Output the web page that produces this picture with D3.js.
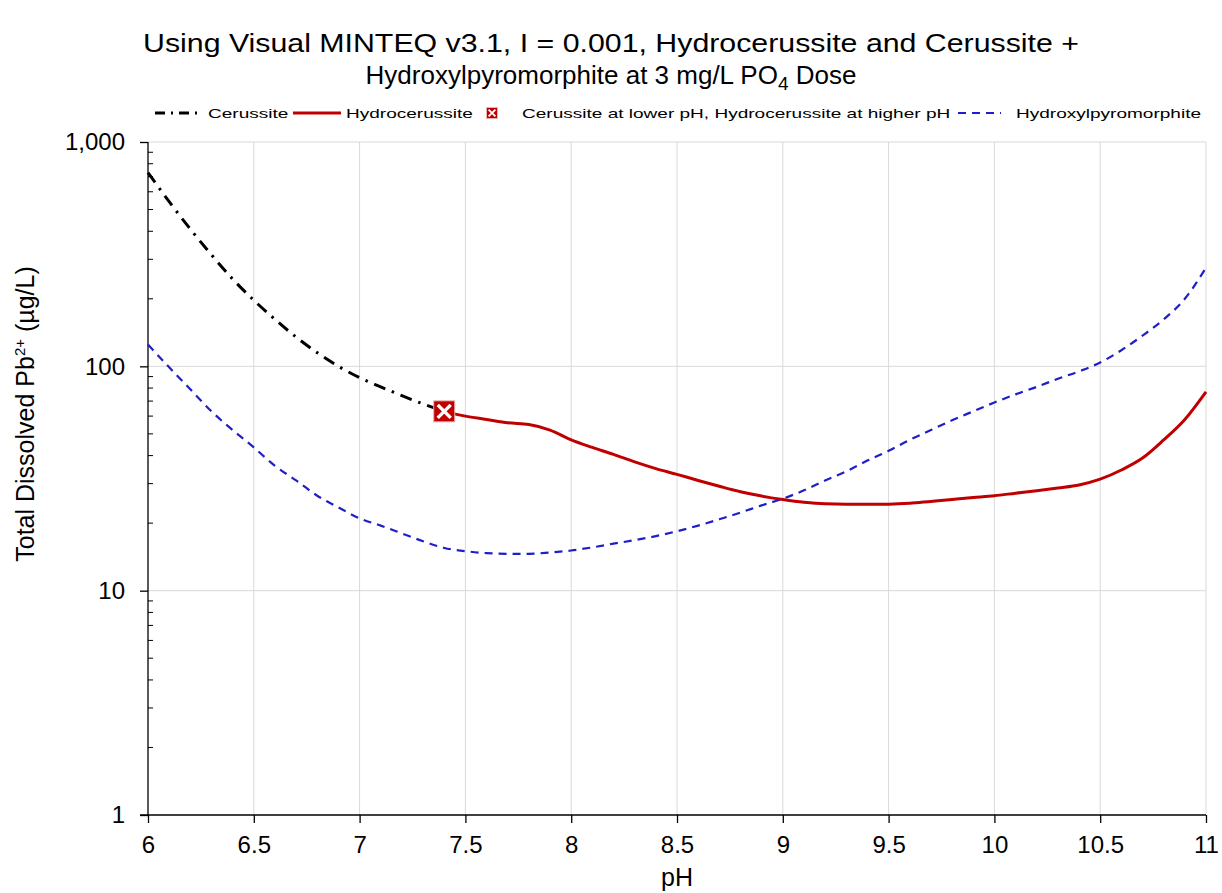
<!DOCTYPE html>
<html lang="en">
<head>
<meta charset="UTF-8" />
<script src="https://d3js.org/d3.v7.min.js"></script>
<title>MINTEQ lead solubility</title>
<style>
  body { margin: 0; background: #fff; overflow: hidden; }
  svg { display: block; }
  text { font-family: Arial, "Liberation Sans", sans-serif; fill: #000; }
  .tick text { font-size: 24px; }
</style>
</head>
<body>
<svg id="chart" width="1222" height="893"></svg>
<script>
// pH values and dissolved Pb (ug/L)
const phCerussite = [6.0, 6.1, 6.2, 6.3, 6.4, 6.5, 6.6, 6.7, 6.8, 6.9, 7.0, 7.1, 7.2, 7.3, 7.4];
const pbCerussite = [730, 542, 409, 314, 245, 197, 162, 135, 115, 100, 89, 81, 74, 68, 63];

const phHydro = [7.4, 7.5, 7.6, 7.7, 7.8, 7.9, 8.0, 8.1, 8.2, 8.3, 8.4, 8.5, 8.6, 8.7, 8.8, 8.9, 9.0,
  9.1, 9.2, 9.3, 9.4, 9.5, 9.6, 9.7, 9.8, 9.9, 10.0, 10.1, 10.2, 10.3, 10.4, 10.5, 10.6, 10.7, 10.8, 10.9, 11.0];
const pbHydro = [63, 60, 58, 56, 55, 52, 47, 43.5, 40.5, 37.5, 35, 33, 31, 29.2, 27.6, 26.4, 25.5,
  24.8, 24.4, 24.3, 24.3, 24.3, 24.5, 25, 25.5, 26, 26.5, 27.2, 27.9, 28.7, 29.6, 31.4, 34.5, 39, 47, 58, 77];

const phPyro = [6.0, 6.1, 6.2, 6.3, 6.4, 6.5, 6.6, 6.7, 6.8, 6.9, 7.0, 7.1, 7.2, 7.3, 7.4, 7.5, 7.6, 7.7, 7.8, 7.9,
  8.0, 8.1, 8.2, 8.3, 8.4, 8.5, 8.6, 8.7, 8.8, 8.9, 9.0, 9.1, 9.2, 9.3, 9.4, 9.5, 9.6, 9.7, 9.8, 9.9,
  10.0, 10.1, 10.2, 10.3, 10.4, 10.5, 10.6, 10.7, 10.8, 10.9, 11.0];
const pbPyro = [125, 99, 79, 63, 52, 43.5, 36, 31, 26.5, 23.5, 21, 19.5, 18, 16.6, 15.5, 15, 14.7, 14.6, 14.6, 14.8,
  15.1, 15.6, 16.2, 16.8, 17.5, 18.4, 19.5, 20.8, 22.3, 24, 25.7, 28, 31, 34, 38, 42, 47, 52, 57.5, 63,
  69, 75, 81, 88, 95, 104, 118, 137, 162, 200, 275];

// transition point
const phSwitch = [7.4];
const pbSwitch = [63];

const xTicks = [6, 6.5, 7, 7.5, 8, 8.5, 9, 9.5, 10, 10.5, 11];
const yTicks = [1, 10, 100, 1000];

const svg = d3.select('#chart');
const margin = { top: 142, right: 16, bottom: 78, left: 148 };
const width = +svg.attr('width');
const height = +svg.attr('height');
const innerWidth = width - margin.left - margin.right;
const innerHeight = height - margin.top - margin.bottom;

const xScale = d3.scaleLinear().domain([6, 11]).range([0, innerWidth]);
const yScale = d3.scaleLog().domain([1, 1000]).range([innerHeight, 0]);

const g = svg.append('g').attr('transform', `translate(${margin.left},${margin.top})`);

// grid
g.append('g').selectAll('line').data(xTicks.slice(1)).enter().append('line')
  .attr('x1', d => xScale(d)).attr('x2', d => xScale(d))
  .attr('y1', 0).attr('y2', innerHeight)
  .attr('stroke', '#d9d9d9').attr('stroke-width', 1);
g.append('g').selectAll('line').data(yTicks.slice(1)).enter().append('line')
  .attr('x1', 0).attr('x2', innerWidth)
  .attr('y1', d => yScale(d)).attr('y2', d => yScale(d))
  .attr('stroke', '#d9d9d9').attr('stroke-width', 1);

// minor ticks on y axis (inside)
const minor = [];
[1, 10, 100].forEach(dec => { for (let k = 2; k <= 9; k++) minor.push(dec * k); });
g.append('g').selectAll('line').data(minor).enter().append('line')
  .attr('x1', 0).attr('x2', 5)
  .attr('y1', d => yScale(d)).attr('y2', d => yScale(d))
  .attr('stroke', '#000').attr('stroke-width', 1);

// axes
const yAxis = d3.axisLeft(yScale)
  .tickValues(yTicks)
  .tickFormat(d3.format(','))
  .tickSize(8)
  .tickPadding(15);
const yAxisG = g.append('g').call(yAxis);
yAxisG.selectAll('line, path').attr('stroke', '#000').attr('stroke-width', 1.3);
yAxisG.select('.domain').attr('d', `M0,0V${innerHeight}`);

const xAxis = d3.axisBottom(xScale)
  .tickValues(xTicks)
  .tickFormat(d => d)
  .tickSize(8)
  .tickPadding(13);
const xAxisG = g.append('g').attr('transform', `translate(0,${innerHeight})`).call(xAxis);
xAxisG.selectAll('line, path').attr('stroke', '#000').attr('stroke-width', 1.3);
xAxisG.select('.domain').attr('d', `M-8,0H${innerWidth}`);

// lines
const line = d3.line()
  .x(d => xScale(d[0]))
  .y(d => yScale(d[1]))
  .curve(d3.curveMonotoneX);

const zip = (a, b) => a.map((v, i) => [v, b[i]]);

const styles = {
  cer: { stroke: '#000', width: 3, dash: '12,7,2.5,7' },
  hyd: { stroke: '#c00000', width: 3, dash: null },
  pyr: { stroke: '#1f1fc8', width: 2.2, dash: '8,6' }
};

g.append('path').datum(zip(phPyro, pbPyro))
  .attr('d', line).attr('fill', 'none')
  .attr('stroke', styles.pyr.stroke).attr('stroke-width', styles.pyr.width)
  .attr('stroke-dasharray', styles.pyr.dash);

g.append('path').datum(zip(phCerussite, pbCerussite))
  .attr('d', line).attr('fill', 'none')
  .attr('stroke', styles.cer.stroke).attr('stroke-width', styles.cer.width)
  .attr('stroke-dasharray', styles.cer.dash);

g.append('path').datum(zip(phHydro, pbHydro))
  .attr('d', line).attr('fill', 'none')
  .attr('stroke', styles.hyd.stroke).attr('stroke-width', styles.hyd.width);

// marker: red square with white X
const drawMarker = (sel, cx, cy, s) => {
  const h = s / 2;
  sel.append('rect')
    .attr('x', cx - h).attr('y', cy - h).attr('width', s).attr('height', s)
    .attr('fill', '#c00000').attr('stroke', '#e8b0b0').attr('stroke-width', 1);
  const k = h * 0.62;
  sel.append('path')
    .attr('d', `M${cx - k},${cy - k}L${cx + k},${cy + k}M${cx + k},${cy - k}L${cx - k},${cy + k}`)
    .attr('stroke', '#fff').attr('stroke-width', s * 0.16).attr('fill', 'none');
};
zip(phSwitch, pbSwitch).forEach(d => drawMarker(g.append('g'), xScale(d[0]), yScale(d[1]), 21));

// axis titles
svg.append('text')
  .attr('x', margin.left + innerWidth / 2).attr('y', 886)
  .attr('text-anchor', 'middle').style('font-size', '25px')
  .text('pH');

const yt = svg.append('text')
  .attr('transform', 'translate(34,414) rotate(-90)')
  .attr('text-anchor', 'middle').style('font-size', '25px');
yt.append('tspan').text('Total Dissolved Pb');
yt.append('tspan').attr('dy', -9).style('font-size', '15px').text('2+');
yt.append('tspan').attr('dy', 9).text(' (µg/L)');

// title
svg.append('text')
  .attr('x', 611).attr('y', 52)
  .attr('text-anchor', 'middle').style('font-size', '26px')
  .attr('textLength', 936).attr('lengthAdjust', 'spacingAndGlyphs')
  .text('Using Visual MINTEQ v3.1, I = 0.001, Hydrocerussite and Cerussite +');
const t2 = svg.append('text').attr('text-anchor', 'middle').style('font-size', '26px')
  .attr('x', 611).attr('y', 84);
t2.append('tspan').text('Hydroxylpyromorphite at 3 mg/L PO');
t2.append('tspan').attr('dy', 6).style('font-size', '19px').text('4');
t2.append('tspan').attr('dy', -6).text(' Dose');

// legend
const legend = svg.append('g').attr('transform', 'translate(0,113)');
const legendItems = [
  { key: 'cer', label: 'Cerussite', x: 155, tx: 208 },
  { key: 'hyd', label: 'Hydrocerussite', x: 293, tx: 346 },
  { key: 'mk', label: 'Cerussite at lower pH, Hydrocerussite at higher pH', x: 484, tx: 522 },
  { key: 'pyr', label: 'Hydroxylpyromorphite', x: 958, tx: 1016 }
];
legendItems.forEach(it => {
  if (it.key === 'mk') {
    drawMarker(legend.append('g'), it.x + 8, 0, 11);
  } else {
    const st = styles[it.key];
    legend.append('line')
      .attr('x1', it.x).attr('x2', it.key === 'pyr' ? it.x + 43 : it.x + 48)
      .attr('y1', 0).attr('y2', 0)
      .attr('stroke', st.stroke).attr('stroke-width', st.width)
      .attr('stroke-dasharray', it.key === 'cer' ? '10,6,2,6' : st.dash);
  }
  legend.append('text')
    .attr('transform', `translate(${it.tx},5) scale(1.40,1)`)
    .style('font-size', '13.6px')
    .text(it.label);
});
</script>
</body>
</html>
